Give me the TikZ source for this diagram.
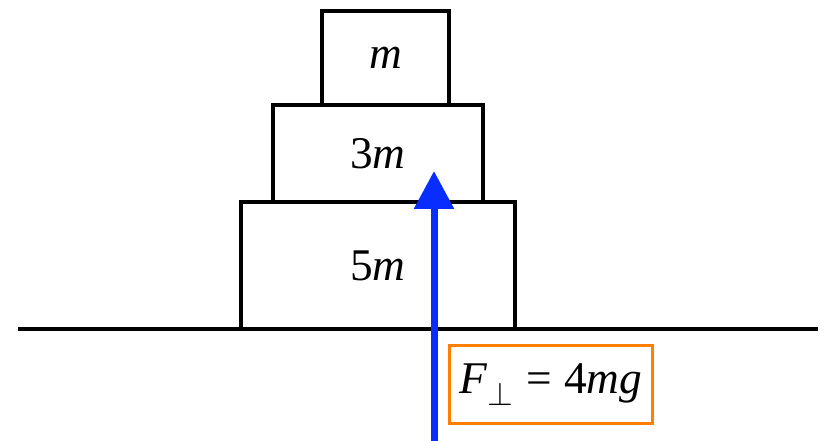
\documentclass[tikz,border=0pt]{standalone}
\usepackage{amsmath}
\usepackage{fontspec}
\setmainfont{Liberation Serif}
\usetikzlibrary{positioning,arrows.meta}
\definecolor{forceblue}{RGB}{10, 45, 255}
\definecolor{labelorange}{RGB}{255, 128, 0}

\begin{document}
\begin{tikzpicture}[x=0.75pt, y=-0.75pt,
    blk/.style={draw, line width=3.2pt, outer sep=0pt, inner sep=0pt, fill=white},
    every node/.style={font=\fontsize{34}{38}\selectfont}]
            \useasboundingbox (0,0) rectangle (827,441);
            \coordinate (gl) at (18,329);
            \coordinate (gr) at (818,329);
            \draw[line width=3.6pt] (gl) -- (gr);
            \node[blk, minimum width=205.5pt, minimum height=95.25pt, anchor=south] (b5) at (378,329) {5\textit{m}};
            \node[blk, minimum width=157.5pt, minimum height=72.75pt, above=0pt of b5] (b3) {3\textit{m}};
            \node[blk, minimum width=95.25pt, minimum height=70.5pt, above=0pt of b3, xshift=5.6pt] (bm) {\textit{m}};
            \coordinate (fs) at (434,441);
            \coordinate (fe) at (434,171);
            \draw[forceblue, line width=5.25pt, -{Triangle[length=28.5pt, width=29pt]}] (fs) -- (fe);
            \node[draw=labelorange, line width=1.6pt, minimum width=152.25pt, minimum height=58.5pt, inner sep=2pt] (lbl) at (551,384.5)
                {\textit{F}\raisebox{-0.55ex}{$\scriptstyle\perp$}\;=\;4\textit{mg}};
        \end{tikzpicture}
\end{document}
